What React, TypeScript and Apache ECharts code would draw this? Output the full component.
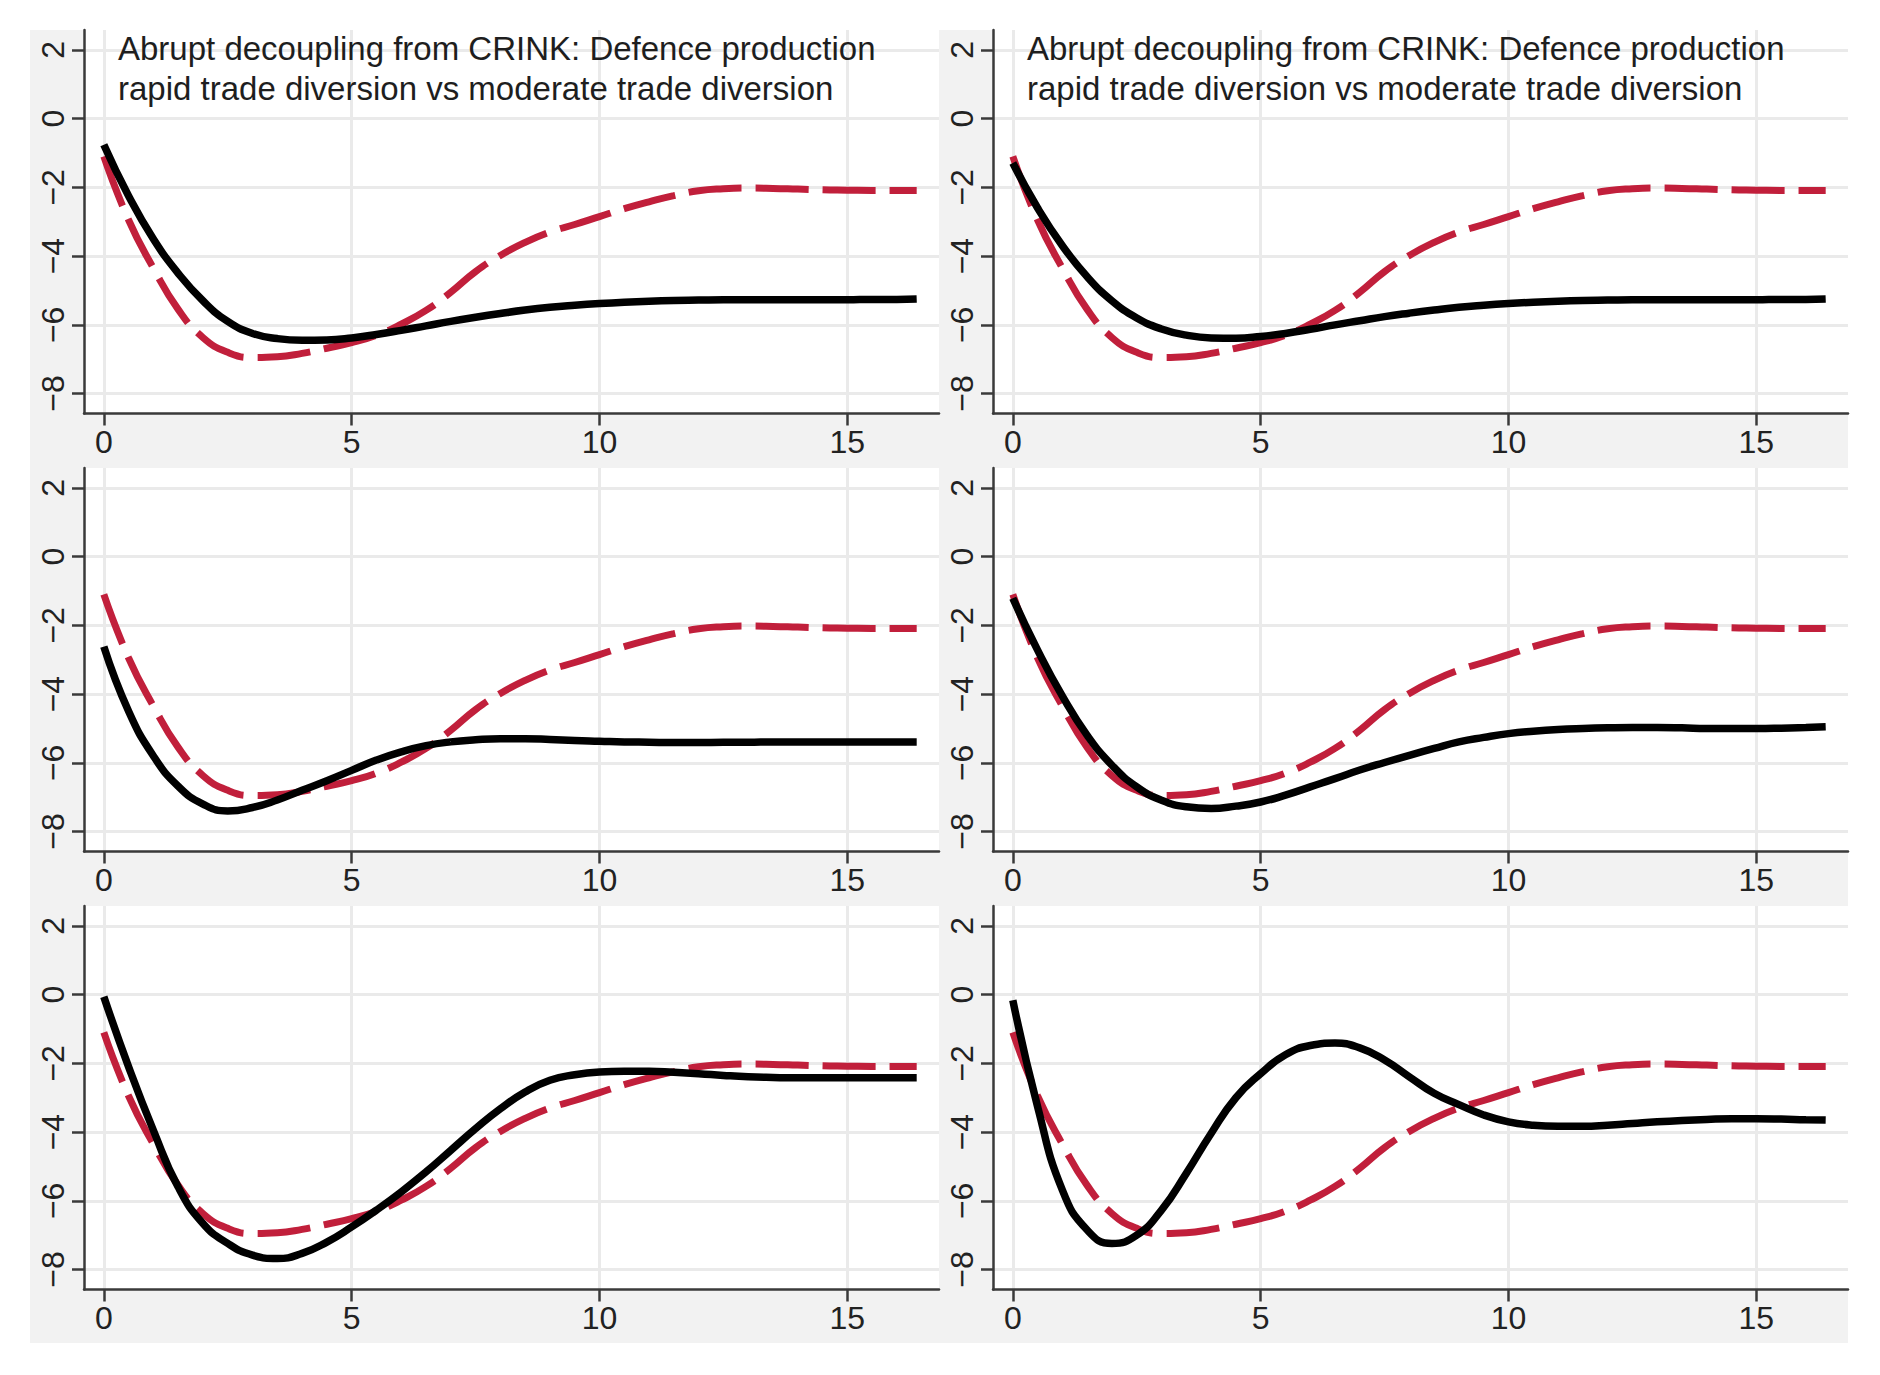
import React, { useEffect, useRef } from "react";
import * as echarts from "echarts";

// horizon (quarters)
const X = [0, 0.5, 1, 1.5, 2, 2.5, 3, 3.5, 4, 4.5, 5, 5.5, 6, 6.5, 7, 7.5, 8, 8.5, 9, 9.5, 10, 10.5, 11, 11.5, 12, 12.5, 13, 13.5, 14, 14.5, 15, 15.5, 16, 16.4];

// moderate trade diversion (red dashed, same in every panel)
const MODERATE = [-1.1, -2.95, -4.35, -5.55, -6.37, -6.8, -6.95, -6.93, -6.83, -6.68, -6.52, -6.3, -5.98, -5.58, -5.05, -4.45, -3.98, -3.6, -3.3, -3.08, -2.85, -2.62, -2.42, -2.24, -2.1, -2.04, -2.02, -2.03, -2.05, -2.07, -2.08, -2.09, -2.09, -2.09];

// rapid trade diversion (black solid), one per panel
const RAPID_1 = [-0.76, -2.25, -3.5, -4.5, -5.3, -5.9, -6.25, -6.4, -6.45, -6.44, -6.38, -6.28, -6.16, -6.03, -5.9, -5.78, -5.67, -5.57, -5.49, -5.43, -5.38, -5.34, -5.31, -5.29, -5.28, -5.27, -5.27, -5.27, -5.27, -5.27, -5.27, -5.26, -5.26, -5.25];
const RAPID_2 = [-1.29, -2.6, -3.7, -4.6, -5.3, -5.8, -6.12, -6.3, -6.38, -6.39, -6.34, -6.25, -6.13, -6.0, -5.88, -5.76, -5.66, -5.57, -5.49, -5.43, -5.38, -5.34, -5.31, -5.29, -5.28, -5.27, -5.27, -5.27, -5.27, -5.27, -5.27, -5.26, -5.26, -5.25];
const RAPID_3 = [-2.62, -4.5, -5.8, -6.68, -7.2, -7.4, -7.3, -7.08, -6.8, -6.52, -6.22, -5.92, -5.68, -5.5, -5.39, -5.33, -5.3, -5.3, -5.32, -5.35, -5.37, -5.39, -5.4, -5.41, -5.41, -5.4, -5.4, -5.39, -5.39, -5.39, -5.39, -5.39, -5.39, -5.39];
const RAPID_4 = [-1.21, -2.72, -4.06, -5.2, -6.07, -6.7, -7.09, -7.28, -7.33, -7.26, -7.14, -6.94, -6.7, -6.46, -6.21, -5.99, -5.78, -5.58, -5.39, -5.26, -5.15, -5.08, -5.03, -5.0, -4.98, -4.97, -4.97, -4.98, -5.0, -5.0, -5.0, -4.99, -4.97, -4.95];
const RAPID_5 = [-0.06, -2.1, -3.95, -5.6, -6.66, -7.24, -7.58, -7.68, -7.53, -7.2, -6.76, -6.27, -5.74, -5.16, -4.53, -3.9, -3.32, -2.83, -2.49, -2.33, -2.25, -2.23, -2.23, -2.26, -2.3, -2.35, -2.39, -2.41, -2.42, -2.42, -2.42, -2.42, -2.42, -2.42];
const RAPID_6 = [-0.16, -3.26, -5.69, -6.85, -7.24, -7.0, -6.27, -5.2, -4.04, -3.0, -2.3, -1.75, -1.48, -1.41, -1.55, -1.9, -2.39, -2.87, -3.2, -3.5, -3.7, -3.8, -3.83, -3.83, -3.8, -3.75, -3.7, -3.66, -3.63, -3.61, -3.61, -3.62, -3.64, -3.65];

const PANELS = [RAPID_1, RAPID_2, RAPID_3, RAPID_4, RAPID_5, RAPID_6];

const X_TICKS = [0, 5, 10, 15];
const Y_TICKS = [-8, -6, -4, -2, 0, 2];
const TITLE_TEXT =
  "Abrupt decoupling from CRINK: Defence production\nrapid trade diversion vs moderate trade diversion";

const FONT = "'Liberation Sans', Arial, Helvetica, sans-serif";
const RED = "#c11f3b";
const COL_LEFT = [84, 993];
const ROW_TOP = [30, 468, 906];
const PLOT_W = 855;
const PLOT_H = 383.5;

function fmtY(v: number) {
  return v < 0 ? "\u2212" + Math.abs(v) : String(v);
}

export default function App() {
  const ref = useRef<HTMLDivElement>(null);

  useEffect(() => {
    if (!ref.current) return;
    const chart = echarts.init(ref.current, undefined, { renderer: "svg" });

    const grids: any[] = [];
    const xAxes: any[] = [];
    const yAxes: any[] = [];
    const series: any[] = [];
    const titles: any[] = [];

    PANELS.forEach((rapid, i) => {
      const col = i % 2;
      const row = Math.floor(i / 2);
      grids.push({
        left: COL_LEFT[col],
        top: ROW_TOP[row],
        width: PLOT_W,
        height: PLOT_H,
        show: true,
        backgroundColor: "#ffffff",
        borderWidth: 0,
        borderColor: "transparent",
        containLabel: false,
      });
      xAxes.push({
        type: "value",
        gridIndex: i,
        min: -0.4,
        max: 16.85,
        axisLine: { show: true, onZero: false, lineStyle: { color: "#3a3a3a", width: 2.5 } },
        axisTick: { show: true, inside: false, length: 12, customValues: X_TICKS, lineStyle: { color: "#3a3a3a", width: 2.5 } },
        axisLabel: {
          show: true,
          customValues: X_TICKS,
          margin: 12,
          fontSize: 32,
          fontFamily: FONT,
          color: "#222222",
        },
        splitLine: { show: true, customValues: X_TICKS, lineStyle: { color: "#eaeaea", width: 3 } },
      });
      yAxes.push({
        type: "value",
        gridIndex: i,
        min: -8.58,
        max: 2.58,
        axisLine: { show: true, onZero: false, lineStyle: { color: "#3a3a3a", width: 2.5 } },
        axisTick: { show: true, inside: false, length: 12, customValues: Y_TICKS, lineStyle: { color: "#3a3a3a", width: 2.5 } },
        axisLabel: {
          show: true,
          customValues: Y_TICKS,
          rotate: 90,
          margin: 15,
          fontSize: 32,
          fontFamily: FONT,
          color: "#222222",
          formatter: (v: number) => fmtY(v),
        },
        splitLine: { show: true, customValues: Y_TICKS, lineStyle: { color: "#eaeaea", width: 3 } },
      });
      series.push({
        type: "line",
        name: "moderate trade diversion",
        xAxisIndex: i,
        yAxisIndex: i,
        data: X.map((x, k) => [x, MODERATE[k]]),
        showSymbol: false,
        symbol: "none",
        smooth: 0.5,
        lineStyle: { color: RED, width: 7, type: [53, 14], cap: "butt" },
        z: 3,
      });
      series.push({
        type: "line",
        name: "rapid trade diversion",
        xAxisIndex: i,
        yAxisIndex: i,
        data: X.map((x, k) => [x, rapid[k]]),
        showSymbol: false,
        symbol: "none",
        smooth: 0.5,
        lineStyle: { color: "#000000", width: 7.5 },
        z: 4,
      });
      if (row === 0) {
        titles.push({
          text: TITLE_TEXT,
          left: COL_LEFT[col] + 34,
          top: 28,
          padding: 0,
          textStyle: {
            fontSize: 33,
            lineHeight: 40,
            fontWeight: "normal",
            fontFamily: FONT,
            color: "#1e1e1e",
          },
        });
      }
    });

    chart.setOption({
      animation: false,
      backgroundColor: "#ffffff",
      title: titles,
      graphic: [
        {
          type: "rect",
          z: -10,
          silent: true,
          shape: { x: 30, y: 30, width: 1818, height: 1313 },
          style: { fill: "#f2f2f2" },
        },
      ],
      grid: grids,
      xAxis: xAxes,
      yAxis: yAxes,
      series,
    });

    return () => chart.dispose();
  }, []);

  return (
    <div
      ref={ref}
      style={{ position: "absolute", left: 0, top: 0, width: 1880, height: 1375 }}
    />
  );
}
